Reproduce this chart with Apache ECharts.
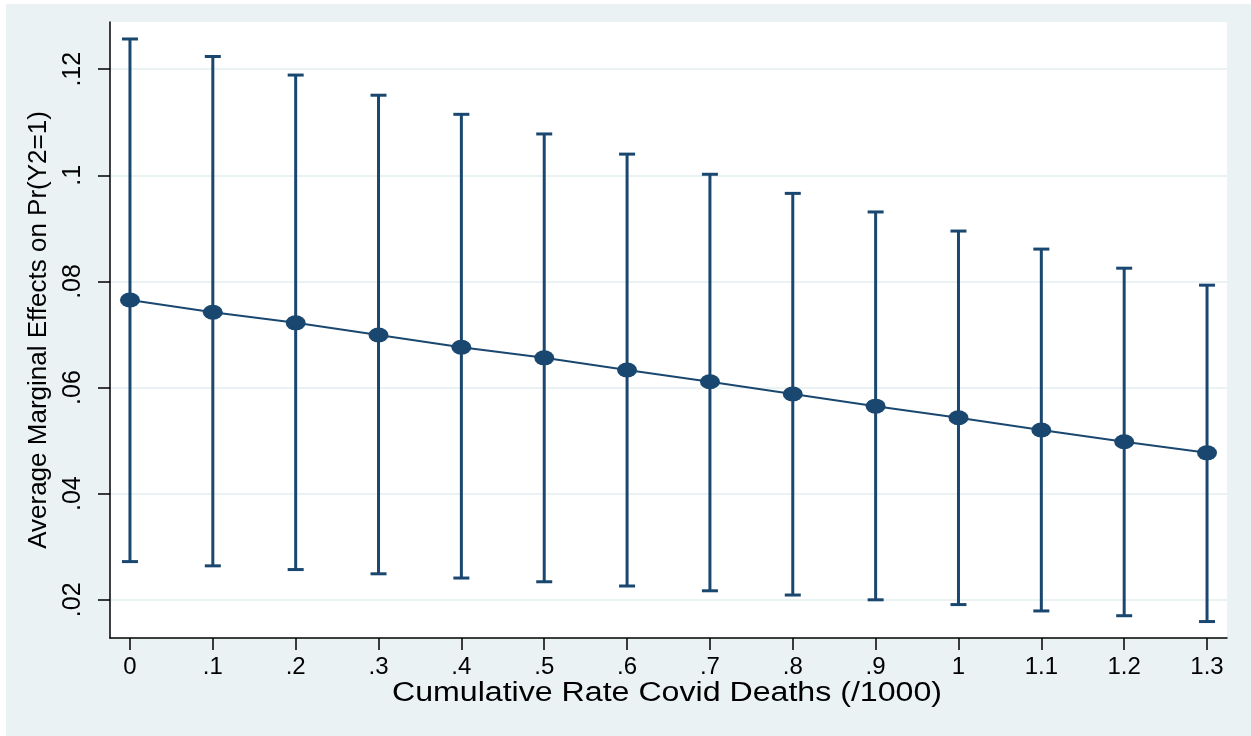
<!DOCTYPE html>
<html>
<head>
<meta charset="utf-8">
<script src="https://cdn.jsdelivr.net/npm/echarts@6/dist/echarts.min.js"></script>
<style>
  html, body { margin: 0; padding: 0; background: #fff; }
  #chart { width: 1251px; height: 736px; }
</style>
</head>
<body>
<div id="chart"></div>
<script>
// death rate levels (/1000)
const xVals = [0, 0.1, 0.2, 0.3, 0.4, 0.5, 0.6, 0.7, 0.8, 0.9, 1.0, 1.1, 1.2, 1.3]
const margins = [0.0765, 0.0742, 0.0722, 0.0699, 0.0676, 0.0656, 0.0633, 0.0611, 0.0588, 0.0565, 0.0543, 0.0520, 0.0498, 0.0477]
const upperCI = [0.1257, 0.1224, 0.1189, 0.1151, 0.1115, 0.1078, 0.1040, 0.1002, 0.0966, 0.0931, 0.0895, 0.0861, 0.0825, 0.0793]
const lowerCI = [0.0272, 0.0264, 0.0257, 0.0249, 0.0241, 0.0234, 0.0226, 0.0217, 0.0209, 0.0200, 0.0191, 0.0179, 0.0170, 0.0159]
const yTicks = [0.02, 0.04, 0.06, 0.08, 0.10, 0.12]

const xTitle = 'Cumulative Rate Covid Deaths (/1000)'
const yTitle = 'Average Marginal Effects on Pr(Y2=1)'

const navy = '#1a476f'
const font = '"Liberation Sans", Arial, Helvetica, sans-serif'

// stata style: drop the leading zero
const stataFmt = v => {
  const s = (Math.round(v * 100) / 100).toString()
  return s.startsWith('0.') ? s.slice(1) : s
}

const chart = echarts.init(document.getElementById('chart'))

chart.setOption({
  backgroundColor: '#fff',
  animation: false,
  graphic: [
    { type: 'rect', z: -10, shape: { x: 6, y: 4, width: 1245, height: 732 }, style: { fill: '#eaf2f3' } },
    // x title, a bit wider than normal like the source image
    {
      type: 'text', x: 667, y: 694, scaleX: 1.19,
      style: { text: xTitle, fill: '#000', fontSize: 27, fontFamily: font, align: 'center', verticalAlign: 'middle' }
    }
  ],
  grid: {
    left: 110, right: 24, top: 22, bottom: 98,
    show: true, backgroundColor: '#fff', borderWidth: 0
  },
  xAxis: {
    type: 'value',
    min: -0.0241,
    max: 1.3241,
    axisLine: { onZero: false, lineStyle: { color: '#000', width: 1.5 } },
    axisTick: { show: true, length: 12, customValues: xVals, lineStyle: { color: '#000', width: 1.5 } },
    axisLabel: { customValues: xVals, formatter: stataFmt, color: '#000', fontSize: 24, fontFamily: font, margin: 17 },
    splitLine: { show: false }
  },
  yAxis: {
    type: 'value',
    min: 0.0128,
    max: 0.1289,
    name: yTitle,
    nameLocation: 'middle',
    nameGap: 58,
    nameTextStyle: { color: '#000', fontSize: 26, fontFamily: font },
    axisLine: { show: true, onZero: false, lineStyle: { color: '#000', width: 1.5 } },
    axisTick: { show: true, length: 12, customValues: yTicks, lineStyle: { color: '#000', width: 1.5 } },
    axisLabel: { customValues: yTicks, rotate: 90, formatter: stataFmt, color: '#000', fontSize: 25, fontFamily: font, margin: 24 },
    splitLine: { show: true, lineStyle: { color: '#eaf2f3', width: 2 } }
  },
  series: [
    {
      type: 'custom',
      z: 2,
      data: xVals.map((x, i) => [x, lowerCI[i], upperCI[i]]),
      renderItem: (params, api) => {
        const lo = api.coord([api.value(0), api.value(1)])
        const hi = api.coord([api.value(0), api.value(2)])
        const cap = 8
        const style = { stroke: navy, lineWidth: 3 }
        return {
          type: 'group',
          children: [
            { type: 'line', shape: { x1: lo[0], y1: lo[1], x2: hi[0], y2: hi[1] }, style },
            { type: 'line', shape: { x1: lo[0] - cap, y1: lo[1], x2: lo[0] + cap, y2: lo[1] }, style },
            { type: 'line', shape: { x1: hi[0] - cap, y1: hi[1], x2: hi[0] + cap, y2: hi[1] }, style }
          ]
        }
      }
    },
    {
      type: 'line',
      z: 3,
      data: xVals.map((x, i) => [x, margins[i]]),
      symbol: 'circle',
      symbolSize: [20, 15],
      showAllSymbol: true,
      lineStyle: { color: navy, width: 2 },
      itemStyle: { color: navy }
    }
  ]
})
</script>
</body>
</html>
